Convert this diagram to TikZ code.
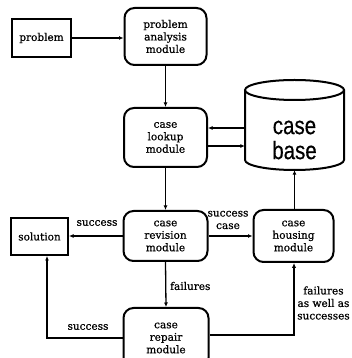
\documentclass[tikz,border=0pt]{standalone}
\usepackage{fontspec}
\setmainfont{DejaVu Serif}[FakeBold=0.6]
\newfontfamily\basefont{Liberation Sans}[FakeBold=0.5]
\usetikzlibrary{arrows.meta}
\begin{document}
\begin{tikzpicture}[x=1pt,y=1pt,
  every node/.style={font=\fontsize{10.5}{12.5}\selectfont, inner sep=0pt},
  sqbox/.style={draw, line width=2pt, align=center},
  modbox/.style={draw, line width=2pt, rounded corners=10pt, align=center},
  conn/.style={line width=1.3pt, -{Latex[length=4.5pt,width=4pt]}},
  thickconn/.style={line width=2.4pt, -{Latex[length=5pt,width=4.5pt]}},
  lbl/.style={align=center}]
\useasboundingbox (0,0) rectangle (351,358);
% nodes
\node[sqbox, minimum width=59pt, minimum height=38pt] (problem) at (41.5,320) {problem};
\node[modbox, minimum width=82pt, minimum height=57pt] (pam) at (165.5,321.5) {problem\\analysis\\module};
\node[modbox, minimum width=83pt, minimum height=59pt] (lookup) at (165.5,220.5) {case\\lookup\\module};
\node[modbox, minimum width=84pt, minimum height=50pt] (revision) at (165.5,122) {case\\revision\\module};
\node[sqbox, minimum width=57pt, minimum height=37pt] (solution) at (39.5,121.5) {solution};
\node[modbox, minimum width=80pt, minimum height=52pt] (housing) at (293.5,122) {case\\housing\\module};
\node[modbox, minimum width=85pt, minimum height=60pt] (repair) at (166,20) {case\\repair\\module};
% case base cylinder
\node[minimum width=99pt, minimum height=90pt] (base) at (294.5,233) {};
\draw[line width=2pt] (245,268) -- (245,198) arc[start angle=180, end angle=360, x radius=49.5pt, y radius=10pt] -- (344,268);
\draw[line width=2pt] (294.5,268) ellipse [x radius=49.5pt, y radius=10pt];
\node[align=center, font=\basefont\fontsize{25}{25}\selectfont] (basetext) at (294.5,218) {\scalebox{0.82}[1]{case}\\\scalebox{0.82}[1]{base}};
% connectors
\draw[conn] (problem.east) -- (problem.east -| pam.west);
\draw[conn] (pam.south) -- (lookup.north);
\draw[conn] (base.west |- 0,230) -- (lookup.east |- 0,230);
\draw[conn] (lookup.east |- 0,212) -- (base.west |- 0,212);
\draw[conn] (lookup.south) -- (revision.north);
\draw[conn] (revision.west) -- (revision.west -| solution.east);
\draw[conn] (revision.east) -- (revision.east -| housing.west);
\draw[conn] (housing.north -| base.south) -- (base.south);
\draw[conn] (revision.south) -- (repair.north);
\coordinate (rs) at (47,20);
\draw[conn] (repair.west |- rs) -- (rs) -- (rs |- solution.south);
\coordinate (rh) at (294,23);
\draw[thickconn] (repair.east |- rh) -- (rh) -- (rh |- housing.south);
% labels
\node[lbl] (l1) at (97,135) {success};
\node[lbl] (l2) at (228,138) {success\\case};
\node[lbl, anchor=west] (l3) at (170,72) {failures};
\node[lbl] (l4) at (88,31) {success};
\node[lbl] (l5) at (323.5,55) {failures\\as well as\\successes};
\end{tikzpicture}
\end{document}
